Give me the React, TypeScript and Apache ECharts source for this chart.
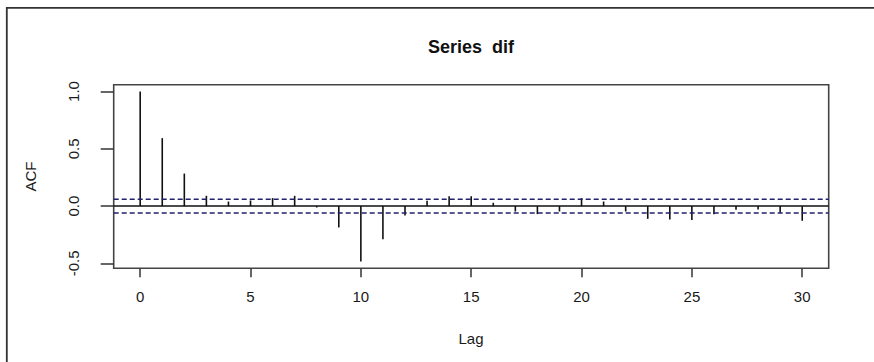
import React, { useEffect, useRef } from "react";
import * as echarts from "echarts";

const lags = [0, 1, 2, 3, 4, 5, 6, 7, 8, 9, 10, 11, 12, 13, 14, 15, 16, 17, 18, 19, 20, 21, 22, 23, 24, 25, 26, 27, 28, 29, 30];
const acfValues = [
  1.0, 0.593, 0.284, 0.09, 0.04, 0.049, 0.07, 0.09, -0.012, -0.186, -0.483,
  -0.288, -0.082, 0.046, 0.087, 0.087, 0.029, -0.047, -0.07, -0.047, 0.07,
  0.04, -0.047, -0.111, -0.117, -0.122, -0.07, -0.032, -0.03, -0.058, -0.128,
];
const ciBound = 0.0593;
const xTicks = [0, 5, 10, 15, 20, 25, 30];
const yTicks = [-0.5, 0, 0.5, 1.0];
const xMin = -1.2;
const xMax = 31.2;
const yMin = -0.5425;
const yMax = 1.0593;
const titleText = "Series  dif";
const xLabel = "Lag";
const yLabel = "ACF";

const FONT = "'Liberation Sans', Arial, sans-serif";

export default function App() {
  const ref = useRef<HTMLDivElement>(null);
  useEffect(() => {
    if (!ref.current) return;
    const chart = echarts.init(ref.current, null, { renderer: "svg" });
    const data = lags.map((l, i) => [l, acfValues[i]]);
    chart.setOption({
      animation: false,
      backgroundColor: "#ffffff",
      grid: {
        left: 113.7,
        top: 84.7,
        width: 715,
        height: 183.6,
        show: true,
        borderColor: "#444",
        borderWidth: 1.6,
        backgroundColor: "transparent",
      },
      xAxis: {
        type: "value",
        min: xMin,
        max: xMax,
        splitLine: { show: false },
        axisLine: { show: false, onZero: false },
        axisTick: {
          show: true,
          customValues: xTicks,
          length: 9,
          inside: false,
          lineStyle: { color: "#333", width: 1.5 },
        },
        axisLabel: {
          customValues: xTicks,
          margin: 21,
          color: "#1a1a1a",
          fontSize: 15,
          fontFamily: FONT,
        },
      },
      yAxis: {
        type: "value",
        min: yMin,
        max: yMax,
        splitLine: { show: false },
        axisLine: { show: false, onZero: false },
        axisTick: {
          show: true,
          customValues: yTicks,
          length: 13,
          lineStyle: { color: "#333", width: 1.5 },
        },
        axisLabel: {
          customValues: yTicks,
          rotate: 90,
          margin: 33,
          color: "#1a1a1a",
          fontSize: 15,
          fontFamily: FONT,
          formatter: (v: number) => v.toFixed(1),
        },
      },
      series: [
        {
          type: "line",
          data: [
            [xMin, 0],
            [xMax, 0],
          ],
          symbol: "none",
          lineStyle: { color: "#111", width: 1.5 },
          silent: true,
        },
        {
          type: "line",
          data: [
            [xMin, ciBound],
            [xMax, ciBound],
          ],
          symbol: "none",
          lineStyle: { color: "#22226a", width: 1.5, type: [5, 3] },
          silent: true,
        },
        {
          type: "line",
          data: [
            [xMin, -ciBound],
            [xMax, -ciBound],
          ],
          symbol: "none",
          lineStyle: { color: "#22226a", width: 1.5, type: [5, 3] },
          silent: true,
        },
        {
          type: "custom",
          data,
          renderItem: (params: any, api: any) => {
            const p0 = api.coord([api.value(0), 0]);
            const p1 = api.coord([api.value(0), api.value(1)]);
            return {
              type: "line",
              shape: { x1: p0[0], y1: p0[1], x2: p1[0], y2: p1[1] },
              style: { stroke: "#111", lineWidth: 1.6 },
            };
          },
        },
      ],
      graphic: [
        {
          type: "rect",
          shape: { x: 6.8, y: 7.8, width: 1000, height: 1000 },
          style: { fill: "none", stroke: "#333", lineWidth: 1.8 },
          silent: true,
        },
        {
          type: "text",
          x: 471,
          y: 47,
          style: {
            text: titleText,
            fontSize: 18,
            fontWeight: "bold",
            fontFamily: FONT,
            fill: "#111",
            align: "center",
            verticalAlign: "middle",
          },
        },
        {
          type: "text",
          x: 471,
          y: 338,
          style: {
            text: xLabel,
            fontSize: 15,
            fontFamily: FONT,
            fill: "#1a1a1a",
            align: "center",
            verticalAlign: "middle",
          },
        },
        {
          type: "text",
          x: 30,
          y: 176.5,
          rotation: Math.PI / 2,
          style: {
            text: yLabel,
            fontSize: 15,
            fontFamily: FONT,
            fill: "#1a1a1a",
            align: "center",
            verticalAlign: "middle",
          },
        },
      ],
    });
    return () => chart.dispose();
  }, []);
  return (
    <div
      ref={ref}
      style={{ position: "fixed", left: 0, top: 0, width: 874, height: 362 }}
    />
  );
}
